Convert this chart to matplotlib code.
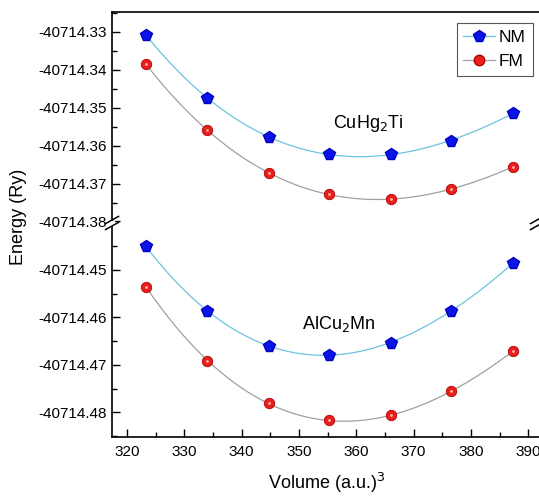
import numpy as np
import matplotlib
matplotlib.use('Agg')
import matplotlib.pyplot as plt
from matplotlib.ticker import MultipleLocator, FormatStrFormatter

plt.rcParams['font.family'] = ['Liberation Sans', 'DejaVu Sans']

volume = [323.3, 334.0, 344.7, 355.3, 366.0, 376.6, 387.3]

# CuHg2Ti
cuhg_nm = [-40714.3308, -40714.3475, -40714.3577, -40714.3623, -40714.3623, -40714.3587, -40714.3515]
cuhg_fm = [-40714.3385, -40714.3559, -40714.3672, -40714.3728, -40714.3742, -40714.3714, -40714.3656]

# AlCu2Mn
alcu_nm = [-40714.4450, -40714.4586, -40714.4660, -40714.4679, -40714.4653, -40714.4586, -40714.4486]
alcu_fm = [-40714.4535, -40714.4691, -40714.4781, -40714.4817, -40714.4806, -40714.4756, -40714.4671]

nmLine = '#6cc4dc'
fmLine = '#a0a0a0'

left, width = 0.2078, 0.7935
split = 0.5522

fig = plt.figure(figsize=(5.39, 4.98), dpi=100)
axTop = fig.add_axes([left, split, width, 0.9759 - split])
axBot = fig.add_axes([left, 0.1225, width, split - 0.1225])


def smoothCurve(x, y):
    # cubic fit through the points, drawn as the smooth guide line
    x = np.array(x)
    y = np.array(y)
    base = y.mean()
    coef = np.polyfit(x, y - base, 3)
    xs = np.linspace(x.min(), x.max(), 200)
    return xs, np.polyval(coef, xs) + base


def drawSeries(ax, nm, fm):
    xs, ys = smoothCurve(volume, nm)
    ax.plot(xs, ys, color=nmLine, lw=0.9, zorder=2)
    xs, ys = smoothCurve(volume, fm)
    ax.plot(xs, ys, color=fmLine, lw=0.9, zorder=2)
    ax.plot(volume, nm, ls='none', marker='p', ms=8.5, color='#0a14e6', mec='#0000c0', zorder=3)
    ax.plot(volume, fm, ls='none', marker='o', ms=7.5, color='#e8201c', mec='#b00000', mew=0.6, zorder=3)
    ax.plot(volume, fm, ls='none', marker='o', ms=2.0, color='#ffb0b0', mec='none', zorder=4)


drawSeries(axTop, cuhg_nm, cuhg_fm)
drawSeries(axBot, alcu_nm, alcu_fm)

# legend handles
axTop.plot([], [], color=nmLine, lw=0.9, marker='p', ms=8.5, mfc='#0a14e6', mec='#0000c0', label='NM')
axTop.plot([], [], color=fmLine, lw=0.9, marker='o', ms=7.5, mfc='#e8201c', mec='#b00000', label='FM')
leg = axTop.legend(loc='upper right', bbox_to_anchor=(0.984, 0.948), fontsize=12.5, frameon=True,
                   fancybox=False, edgecolor='#555555', handlelength=1.8, handletextpad=0.25,
                   borderpad=0.4, labelspacing=0.5, borderaxespad=0, framealpha=1)
leg.get_frame().set_linewidth(0.8)

for ax in (axTop, axBot):
    ax.set_xlim(317.4, 392.0)
    ax.yaxis.set_major_locator(MultipleLocator(0.01))
    ax.yaxis.set_minor_locator(MultipleLocator(0.005))
    ax.yaxis.set_major_formatter(FormatStrFormatter('%.2f'))
    ax.tick_params(axis='both', which='major', direction='in', length=6, width=1, labelsize=11)
    ax.tick_params(axis='both', which='minor', direction='in', length=3.5, width=1)
    ax.tick_params(right=False, top=False, which='both')
    for s in ax.spines.values():
        s.set_linewidth(1.2)

axTop.set_ylim(-40714.3804, -40714.3248)
axBot.set_ylim(-40714.4852, -40714.4401)

axTop.spines['bottom'].set_visible(False)
axBot.spines['top'].set_visible(False)
axTop.tick_params(axis='x', which='both', bottom=False, labelbottom=False)

axBot.xaxis.set_major_locator(MultipleLocator(10))
axBot.xaxis.set_minor_locator(MultipleLocator(5))
axBot.tick_params(axis='x', pad=6)

axTop.text(356.0, -40714.3541, 'CuHg$_2$Ti', fontsize=13, va='center', ha='left')
axBot.text(350.6, -40714.4614, 'AlCu$_2$Mn', fontsize=13, va='center', ha='left')

# break marks on the spines
d = 0.012
for xf in (left, left + width - 0.005):
    fig.add_artist(plt.Rectangle((xf - 0.004, split - 0.005), 0.008, 0.01, color='white',
                                 transform=fig.transFigure, zorder=5))
    for off in (-0.006, 0.006):
        fig.add_artist(plt.Line2D([xf - d, xf + d], [split + off - d * 0.6, split + off + d * 0.6],
                                  color='black', lw=1.1, transform=fig.transFigure, zorder=6))

fig.text(0.035, 0.564, 'Energy (Ry)', rotation=90, fontsize=13, ha='center', va='center')
fig.text(0.605, 0.03, 'Volume (a.u.)$^3$', fontsize=13, ha='center', va='center')

fig.savefig('out.png', dpi=100)
